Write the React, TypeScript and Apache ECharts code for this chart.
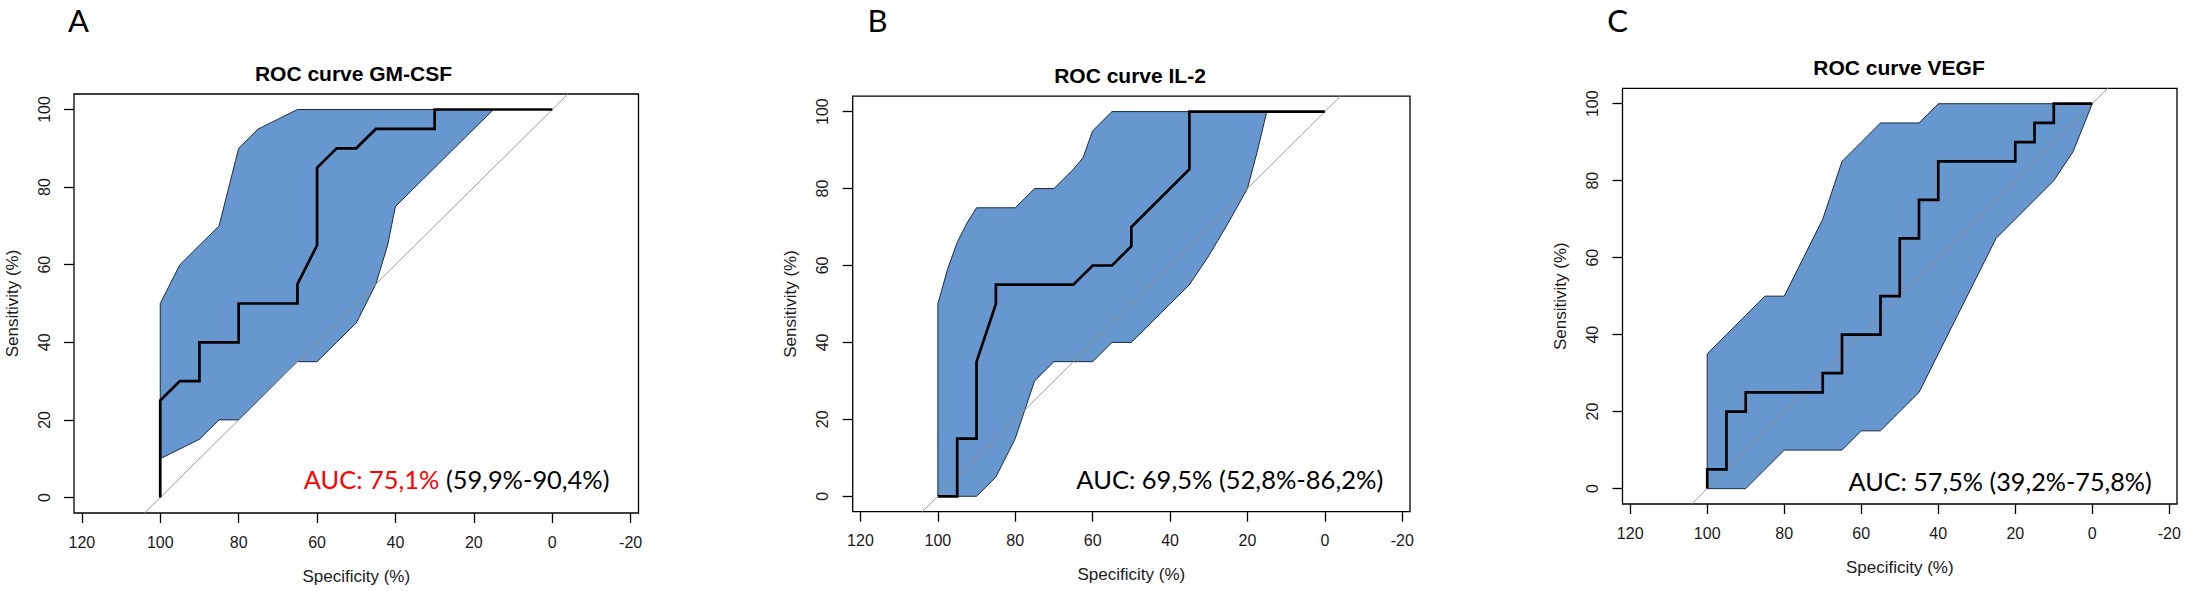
import React, { useEffect, useRef } from "react";
import * as echarts from "echarts";

// ---------- data ----------
const xTickValues = [120, 100, 80, 60, 40, 20, 0, -20];
const yTickValues = [0, 20, 40, 60, 80, 100];
const identityLine = [[130, -30], [-30, 130]];

const panelLetters = ["A", "B", "C"];
const panelTitles = ["ROC curve GM-CSF", "ROC curve IL-2", "ROC curve VEGF"];
const aucMain = ["AUC: 75,1%", "AUC: 69,5%", "AUC: 57,5%"];
const aucCI = ["(59,9%-90,4%)", "(52,8%-86,2%)", "(39,2%-75,8%)"];
const aucHighlight = [true, false, false];
const xAxisTitle = "Specificity (%)";
const yAxisTitle = "Sensitivity (%)";

// GM-CSF
const rocSpecA = [100, 100, 95, 90, 90, 80, 80, 65, 65, 60, 60, 55, 50, 45, 30, 30, 0];
const rocSensA = [0, 25, 30, 30, 40, 40, 50, 50, 55, 65, 85, 90, 90, 95, 95, 100, 100];
const ciUpSpecA = [100, 95, 90, 85, 80, 75, 70, 65, 0];
const ciUpSensA = [50, 60, 65, 70, 90, 95, 97.5, 100, 100];
const ciLoSpecA = [100, 95, 90, 85, 80, 75, 70, 65, 60, 55, 50, 45, 42, 40, 35, 30, 25, 20, 15, 0];
const ciLoSensA = [10, 12.5, 15, 20, 20, 25, 30, 35, 35, 40, 45, 55, 65, 75, 80, 85, 90, 95, 100, 100];

// IL-2
const rocSpecB = [100, 95, 95, 90, 90, 85, 85, 65, 60, 55, 50, 50, 45, 40, 35, 35, 0];
const rocSensB = [0, 0, 15, 15, 35, 50, 55, 55, 60, 60, 65, 70, 75, 80, 85, 100, 100];
const ciUpSpecB = [100, 97.5, 95, 92.5, 90, 80, 75, 70, 65, 62.5, 60, 55, 0];
const ciUpSensB = [50, 59, 66, 71, 75, 75, 80, 80, 85, 88, 95, 100, 100];
const ciLoSpecB = [100, 90, 85, 80, 75, 70, 60, 55, 50, 45, 40, 35, 30, 25, 20, 17.5, 15, 0];
const ciLoSensB = [0, 0, 5, 15, 30, 35, 35, 40, 40, 45, 50, 55, 62.5, 71, 80, 89.5, 100, 100];

// VEGF
const rocSpecC = [100, 100, 95, 95, 90, 90, 70, 70, 65, 65, 55, 55, 50, 50, 45, 45, 40, 40, 20, 20, 15, 15, 10, 10, 0];
const rocSensC = [0, 5, 5, 20, 20, 25, 25, 30, 30, 40, 40, 50, 50, 65, 65, 75, 75, 85, 85, 90, 90, 95, 95, 100, 100];
const ciUpSpecC = [100, 95, 90, 85, 80, 75, 70, 65, 60, 55, 45, 40, 0];
const ciUpSensC = [35, 40, 45, 50, 50, 60, 70, 85, 90, 95, 95, 100, 100];
const ciLoSpecC = [100, 90, 85, 80, 65, 60, 55, 50, 45, 40, 35, 30, 25, 20, 15, 10, 5, 0];
const ciLoSensC = [0, 0, 5, 10, 10, 15, 15, 20, 25, 35, 45, 55, 65, 70, 75, 80, 87.5, 100];

// ---------- layout / style ----------
const FONT = "'Liberation Sans', Arial, Helvetica, sans-serif";
const CAL = "Lato, 'Open Sans', sans-serif";
const BAND_FILL = "#6797cf";
const LAYOUT = [
  { left: 74, top: 94, width: 564.5, height: 419, letterX: 78.5, titleX: 353.5, aucX: 303.8, aucY: 479, aucW: 305.7 },
  { left: 852.7, top: 96.2, width: 557.3, height: 415.5, letterX: 877.5, titleX: 1130, aucX: 1076.3, aucY: 479, aucW: 307 },
  { left: 1622.5, top: 88.3, width: 554.5, height: 415.7, letterX: 1617.6, titleX: 1899, aucX: 1848.5, aucY: 481.5, aucW: 303.3 },
];
const AUC_SIZE = 25;

const zip = (a: number[], b: number[]) => a.map((v, i) => [v, b[i]]);

const panels = [
  { roc: zip(rocSpecA, rocSensA), up: zip(ciUpSpecA, ciUpSensA), lo: zip(ciLoSpecA, ciLoSensA) },
  { roc: zip(rocSpecB, rocSensB), up: zip(ciUpSpecB, ciUpSensB), lo: zip(ciLoSpecB, ciLoSensB) },
  { roc: zip(rocSpecC, rocSensC), up: zip(ciUpSpecC, ciUpSensC), lo: zip(ciLoSpecC, ciLoSensC) },
];

function measure(text: string, font: string): number {
  const c = document.createElement("canvas").getContext("2d");
  if (!c) return text.length * 12;
  c.font = font;
  return c.measureText(text).width;
}

function buildOption() {
  const grid: any[] = [];
  const xAxis: any[] = [];
  const yAxis: any[] = [];
  const series: any[] = [];
  const graphic: any[] = [];

  LAYOUT.forEach((L, i) => {
    grid.push({
      left: L.left, top: L.top, width: L.width, height: L.height,
      show: true, borderColor: "#000", borderWidth: 1.3, backgroundColor: "transparent",
      containLabel: false,
    });
    xAxis.push({
      type: "value", gridIndex: i, position: "bottom", min: -22, max: 122, inverse: true,
      splitLine: { show: false },
      axisLine: { show: false, onZero: false },
      axisTick: { show: true, length: 10, customValues: xTickValues, lineStyle: { color: "#000", width: 1.3 } },
      axisLabel: { show: true, customValues: xTickValues, fontSize: 16, fontFamily: FONT, color: "#1a1a1a", margin: 21 },
    });
    yAxis.push({
      type: "value", gridIndex: i, position: "left", min: -4, max: 104,
      splitLine: { show: false },
      axisLine: { show: false, onZero: false },
      axisTick: { show: true, length: 10, customValues: yTickValues, lineStyle: { color: "#000", width: 1.3 } },
      axisLabel: { show: true, customValues: yTickValues, rotate: 90, fontSize: 16, fontFamily: FONT, color: "#1a1a1a", margin: 22 },
    });

    const P = panels[i];
    series.push({
      type: "custom", xAxisIndex: i, yAxisIndex: i, clip: true, silent: true, z: 1,
      data: [[50, 50]],
      renderItem: (_params: any, api: any) => {
        const pts: number[][] = [];
        P.up.forEach((p) => pts.push(api.coord(p)));
        for (let k = P.lo.length - 1; k >= 0; k--) pts.push(api.coord(P.lo[k]));
        return {
          type: "polygon",
          shape: { points: pts },
          style: { fill: BAND_FILL, stroke: "#0d1a2e", lineWidth: 0.9 },
        };
      },
    });
    series.push({
      type: "line", xAxisIndex: i, yAxisIndex: i, data: identityLine, showSymbol: false, symbol: "none",
      clip: true, silent: true, z: 2, lineStyle: { color: "#8f8f8f", width: 0.9 },
    });
    series.push({
      type: "line", xAxisIndex: i, yAxisIndex: i, data: P.roc, showSymbol: false, symbol: "none",
      clip: true, silent: true, z: 3, lineStyle: { color: "#000", width: 2.7, join: "miter" },
    });

    const cx = L.left + L.width / 2;
    const cy = L.top + L.height / 2;
    const bottom = L.top + L.height;

    graphic.push({
      type: "text", x: L.letterX, y: 19.5,
      style: { text: panelLetters[i], font: `31px ${CAL}`, fill: "#000", align: "center", verticalAlign: "middle" },
    });
    graphic.push({
      type: "text", x: L.titleX, y: L.top - 20.5,
      style: { text: panelTitles[i], font: `bold 21px ${FONT}`, fill: "#000", align: "center", verticalAlign: "middle" },
    });
    graphic.push({
      type: "text", x: cx, y: bottom + 63,
      style: { text: xAxisTitle, font: `17px ${FONT}`, fill: "#1a1a1a", align: "center", verticalAlign: "middle" },
    });
    graphic.push({
      type: "text", x: L.left - 62, y: cy, rotation: Math.PI / 2,
      style: { text: yAxisTitle, font: `17px ${FONT}`, fill: "#1a1a1a", align: "center", verticalAlign: "middle" },
    });

    const aucFont = `${AUC_SIZE}px ${CAL}`;
    const full = `${aucMain[i]} ${aucCI[i]}`;
    const w = measure(full, aucFont);
    const sx = w > 0 ? L.aucW / w : 1;
    const mainColor = aucHighlight[i] ? "#ff0000" : "#000";
    graphic.push({
      type: "text", x: L.aucX, y: L.aucY, scaleX: sx, scaleY: 1,
      style: {
        text: `{m|${aucMain[i]}}{k| ${aucCI[i]}}`,
        font: aucFont, align: "left", verticalAlign: "middle",
        rich: {
          m: { fill: mainColor, fontSize: AUC_SIZE, fontFamily: CAL },
          k: { fill: "#000", fontSize: AUC_SIZE, fontFamily: CAL },
        },
      },
    });
  });

  return { animation: false, backgroundColor: "#fff", grid, xAxis, yAxis, series, graphic };
}

export default function App() {
  const ref = useRef<HTMLDivElement>(null);
  useEffect(() => {
    if (!ref.current) return;
    const chart = echarts.init(ref.current, null, { renderer: "svg" });
    chart.setOption(buildOption());
    return () => chart.dispose();
  }, []);
  return (
    <div
      ref={ref}
      style={{ position: "fixed", left: 0, top: 0, width: 2185, height: 591, background: "#fff" }}
    />
  );
}
